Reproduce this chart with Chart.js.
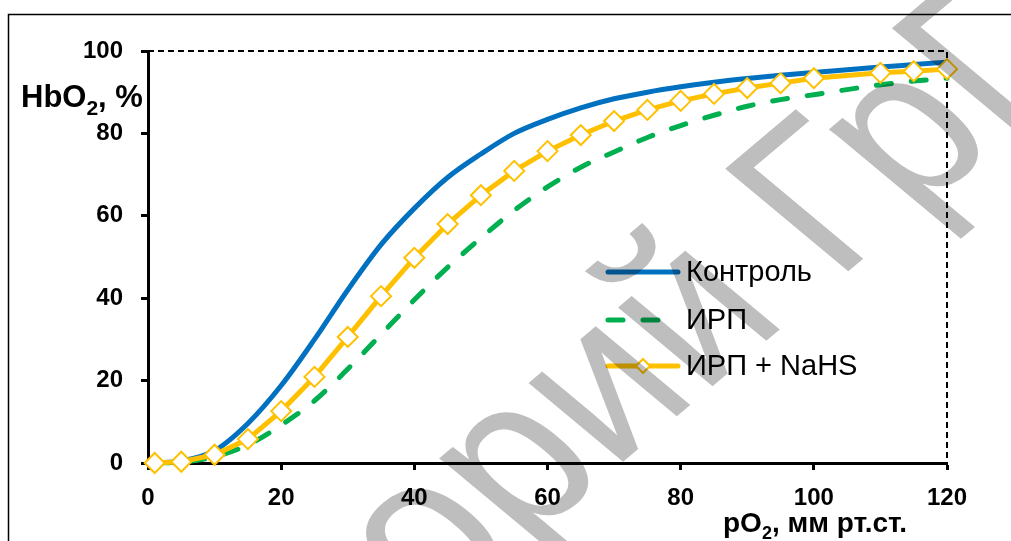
<!DOCTYPE html>
<html>
<head>
<meta charset="utf-8">
<script src="https://cdn.jsdelivr.net/npm/chart.js@4.4.0/dist/chart.umd.min.js"></script>
<style>
  html, body { margin: 0; padding: 0; background: #fff; }
  #wrap { width: 1011px; height: 541px; }
</style>
</head>
<body>
<div id="wrap"><canvas id="oxyChart" width="1011" height="541"></canvas></div>
<script>
// pO2, mm Hg
var po2 = [1, 5, 10, 15, 20, 25, 30, 35, 40, 45, 50, 55, 60, 65, 70, 75, 80, 85, 90, 95, 100, 110, 115, 120];
// HbO2, %
var control = [0, 0.5, 3, 9.6, 18.8, 30, 42, 53, 61.8, 69.3, 75, 80, 83.4, 86.2, 88.4, 90, 91.3, 92.4, 93.3, 94.1, 94.8, 96.1, 96.7, 97.3];
var irp = [0, 0.2, 1.5, 4.4, 9.2, 15.1, 22.8, 31.2, 39.6, 47.5, 54.6, 61.3, 67.0, 71.8, 75.5, 79.0, 81.9, 84.4, 86.6, 88.2, 89.4, 91.8, 92.7, 93.4];
var irpNahs = [0, 0.3, 2, 5.8, 12.6, 20.9, 30.6, 40.5, 49.8, 58.0, 65.0, 70.9, 75.7, 79.6, 83.0, 85.7, 87.9, 89.6, 91.0, 92.2, 93.4, 94.7, 95.1, 95.6];

var seriesNames = ['Контроль', 'ИРП', 'ИРП + NaHS'];
var xTicks = [0, 20, 40, 60, 80, 100, 120];
var yTicks = [0, 20, 40, 60, 80, 100];

var FONT = 'Arial, "Liberation Sans", sans-serif';
var BLUE = '#0070C0';
var GREEN = '#00B050';
var GOLD = '#FFC000';

function toPoints(ys) {
  return po2.map(function (x, i) {
    return { x: x, y: ys[i] };
  });
}

// frame, dashed top/right edges
var framePlugin = {
  id: 'frame',
  beforeDraw: function (chart) {
    var ctx = chart.ctx;
    var a = chart.chartArea;
    ctx.save();
    ctx.strokeStyle = '#000';
    ctx.lineWidth = 1.5;
    ctx.beginPath();
    ctx.moveTo(8.5, 541);
    ctx.lineTo(8.5, 14.5);
    ctx.lineTo(1011, 14.5);
    ctx.stroke();

    ctx.lineWidth = 2;
    ctx.setLineDash([6, 4]);
    ctx.beginPath();
    ctx.moveTo(a.left, a.top);
    ctx.lineTo(a.right, a.top);
    ctx.lineTo(a.right, a.bottom);
    ctx.stroke();
    ctx.restore();
  }
};

// axis titles with subscripts
function drawSubText(ctx, x, y, parts) {
  parts.forEach(function (p) {
    ctx.font = 'bold ' + p.size + 'px ' + FONT;
    ctx.fillText(p.text, x, y + (p.dy || 0));
    x += ctx.measureText(p.text).width;
  });
}

var titlesPlugin = {
  id: 'titles',
  afterDraw: function (chart) {
    var ctx = chart.ctx;
    ctx.save();
    ctx.fillStyle = '#000';
    ctx.textBaseline = 'alphabetic';
    ctx.textAlign = 'left';
    drawSubText(ctx, 21, 107, [
      { text: 'HbO', size: 31 },
      { text: '2', size: 21, dy: 8 },
      { text: ', %', size: 31 }
    ]);
    drawSubText(ctx, 723, 532, [
      { text: 'pO', size: 28 },
      { text: '2', size: 18, dy: 7 },
      { text: ', мм рт.ст.', size: 28 }
    ]);
    ctx.restore();
  }
};

// legend inside plot
var legendPlugin = {
  id: 'inLegend',
  afterDatasetsDraw: function (chart) {
    var ctx = chart.ctx;
    var rows = [272, 320, 366];
    var x0 = 608, x1 = 678;
    ctx.save();
    chart.data.datasets.forEach(function (ds, i) {
      var y = rows[i];
      ctx.strokeStyle = ds.borderColor;
      ctx.lineWidth = ds.borderWidth;
      ctx.lineCap = 'round';
      ctx.setLineDash(ds.borderDash || []);
      ctx.beginPath();
      ctx.moveTo(x0, y);
      ctx.lineTo(x1, y);
      ctx.stroke();
      ctx.setLineDash([]);
      if (ds.pointRadius > 0) {
        var r = 7;
        var cx = (x0 + x1) / 2;
        ctx.beginPath();
        ctx.moveTo(cx - r, y);
        ctx.lineTo(cx, y - r);
        ctx.lineTo(cx + r, y);
        ctx.lineTo(cx, y + r);
        ctx.closePath();
        ctx.fillStyle = '#fff';
        ctx.fill();
        ctx.lineWidth = 2;
        ctx.strokeStyle = ds.pointBorderColor;
        ctx.stroke();
      }
      ctx.fillStyle = '#000';
      ctx.font = '29px ' + FONT;
      ctx.textBaseline = 'middle';
      ctx.fillText(ds.label, 686, y + 1);
    });
    ctx.restore();
  }
};

// grey repository watermark, slanted across the plot
var watermarkPlugin = {
  id: 'watermark',
  afterDraw: function (chart) {
    var ctx = chart.ctx;
    var size = 200;
    ctx.save();
    ctx.globalCompositeOperation = 'multiply';
    ctx.fillStyle = '#BEBEBE';
    ctx.font = size + 'px ' + FONT;
    ctx.textBaseline = 'alphabetic';
    var pre = 'Репозиторий ';
    var w = ctx.measureText(pre).width;
    ctx.translate(855, 266);
    ctx.transform(0.8, -0.675, 0.895, 0.745, 0, 0);
    ctx.fillText(pre + 'ГрГУ', -w - 0.123 * size, 0);
    ctx.restore();
  }
};

var axisFont = { family: FONT, size: 24, weight: 'bold' };

new Chart(document.getElementById('oxyChart'), {
  type: 'scatter',
  data: {
    datasets: [
      {
        label: seriesNames[0],
        data: toPoints(control),
        showLine: true,
        borderColor: BLUE,
        borderWidth: 5,
        pointRadius: 0,
        cubicInterpolationMode: 'monotone',
        clip: false,
        order: 2
      },
      {
        label: seriesNames[1],
        data: toPoints(irp),
        showLine: true,
        borderColor: GREEN,
        borderWidth: 5,
        borderDash: [15, 20],
        borderCapStyle: 'round',
        pointRadius: 0,
        cubicInterpolationMode: 'monotone',
        clip: false,
        order: 1
      },
      {
        label: seriesNames[2],
        data: toPoints(irpNahs),
        showLine: true,
        borderColor: GOLD,
        borderWidth: 5,
        pointStyle: 'rectRot',
        pointRadius: 10,
        pointBorderWidth: 2,
        pointBorderColor: GOLD,
        pointBackgroundColor: '#fff',
        tension: 0,
        clip: false,
        order: 0
      }
    ]
  },
  options: {
    responsive: false,
    animation: false,
    layout: { padding: { left: 0, right: 64, top: 51, bottom: 0 } },
    plugins: {
      legend: { display: false },
      tooltip: { enabled: false }
    },
    scales: {
      x: {
        type: 'linear',
        min: 0,
        max: 120,
        afterBuildTicks: function (scale) {
          scale.ticks = xTicks.map(function (v) { return { value: v }; });
        },
        afterFit: function (scale) { scale.height = 78; },
        grid: { drawOnChartArea: false, drawTicks: true, tickLength: 7, tickWidth: 3, tickColor: '#000' },
        border: { display: true, color: '#000', width: 3 },
        ticks: { color: '#000', font: axisFont, padding: 14, maxRotation: 0 }
      },
      y: {
        type: 'linear',
        min: 0,
        max: 100,
        afterBuildTicks: function (scale) {
          scale.ticks = yTicks.map(function (v) { return { value: v }; });
        },
        afterFit: function (scale) { scale.width = 148; },
        grid: { drawOnChartArea: false, drawTicks: true, tickLength: 7, tickWidth: 3, tickColor: '#000' },
        border: { display: true, color: '#000', width: 3 },
        ticks: { color: '#000', font: axisFont, padding: 18 }
      }
    }
  },
  plugins: [framePlugin, legendPlugin, titlesPlugin, watermarkPlugin]
});
</script>
</body>
</html>
